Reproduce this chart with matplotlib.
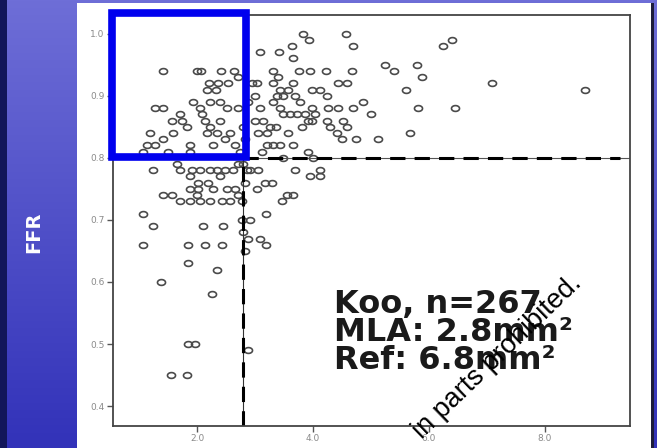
import numpy as np
import matplotlib
matplotlib.use("Agg")
import matplotlib.pyplot as plt
from matplotlib.patches import Rectangle
from matplotlib.path import Path
from matplotlib.markers import MarkerStyle

# MLA (mm2) vs FFR
mla = [3.83, 3.93, 4.57, 4.69, 6.24, 6.40, 3.09, 3.41, 3.64, 3.66,
       5.24, 5.40, 5.79, 5.88, 5.60, 7.09, 8.69, 1.41, 2.00, 2.07,
       2.41, 2.64, 2.71, 3.31, 3.76, 3.95, 4.22, 4.67, 3.40, 3.03,
       3.31, 3.66, 4.43, 4.59, 2.21, 2.36, 2.53, 2.17, 2.33, 3.98,
       4.12, 4.24, 3.43, 3.57, 3.69, 3.38, 3.48, 3.78, 3.31, 2.95,
       3.00, 2.88,
       1.28, 1.41, 1.93, 2.05, 2.22, 2.40, 2.52, 2.71, 1.71, 3.09,
       3.43, 3.98, 4.26, 4.43, 4.69, 4.86, 5.00, 5.81, 6.45, 3.48,
       3.60, 3.72, 3.86, 4.03, 4.52, 4.59, 4.50, 4.74, 5.12, 5.67,
       3.00, 3.14, 3.26, 3.05, 3.21, 3.36, 3.57, 3.81, 3.91, 3.98,
       4.24, 4.29, 4.41, 3.21, 3.31, 3.43, 3.66, 3.12, 3.91, 3.48,
       4.00, 1.57, 1.74, 1.83, 1.19, 1.59, 1.41, 1.28, 1.07, 1.50,
       1.88, 1.88, 2.14, 2.22, 2.40, 2.34, 2.17, 2.57, 2.48, 2.28,
       2.66, 2.09, 1.14, 2.74, 2.79, 2.83,
       1.24, 1.66, 1.71, 1.91, 2.05, 2.22, 2.34, 2.48, 2.62, 2.71,
       2.79, 2.86, 2.91, 3.05, 3.69, 3.95, 4.12, 4.12, 1.88, 2.02,
       2.40, 2.19, 3.17, 3.29, 3.03, 1.88, 2.02, 2.28, 2.52, 2.66,
       2.83, 1.41, 1.57, 1.71, 1.88, 2.05, 2.22, 2.43, 2.57, 2.71,
       2.00, 2.78, 3.47, 3.55, 3.66, 1.07, 2.78, 2.91, 3.19,
       1.24, 2.10, 2.45, 2.79, 2.88, 3.09, 3.19, 2.83, 1.07, 1.84,
       2.14, 2.43, 1.84, 2.34, 1.38, 2.26, 1.84, 1.97, 2.88, 1.55,
       1.83]
ffr = [1.00, 0.99, 1.00, 0.98, 0.98, 0.99, 0.97, 0.97, 0.98, 0.96,
       0.95, 0.94, 0.95, 0.93, 0.91, 0.92, 0.91, 0.94, 0.94, 0.94,
       0.94, 0.94, 0.93, 0.94, 0.94, 0.94, 0.94, 0.94, 0.93, 0.92,
       0.92, 0.92, 0.92, 0.92, 0.92, 0.92, 0.92, 0.91, 0.91, 0.91,
       0.91, 0.90, 0.91, 0.91, 0.90, 0.90, 0.90, 0.89, 0.89, 0.92,
       0.90, 0.89,
       0.88, 0.88, 0.89, 0.88, 0.89, 0.89, 0.88, 0.88, 0.87, 0.88,
       0.88, 0.88, 0.88, 0.88, 0.88, 0.89, 0.87, 0.88, 0.88, 0.87,
       0.87, 0.87, 0.87, 0.87, 0.86, 0.85, 0.83, 0.83, 0.83, 0.84,
       0.86, 0.86, 0.85, 0.84, 0.84, 0.85, 0.84, 0.85, 0.86, 0.86,
       0.86, 0.85, 0.84, 0.82, 0.82, 0.82, 0.82, 0.81, 0.81, 0.80,
       0.80, 0.86, 0.86, 0.85, 0.84, 0.84, 0.83, 0.82, 0.81, 0.81,
       0.82, 0.81, 0.86, 0.85, 0.86, 0.84, 0.84, 0.84, 0.83, 0.82,
       0.82, 0.87, 0.82, 0.81, 0.85, 0.83,
       0.78, 0.79, 0.78, 0.78, 0.78, 0.78, 0.78, 0.78, 0.78, 0.79,
       0.79, 0.78, 0.78, 0.78, 0.78, 0.77, 0.78, 0.77, 0.77, 0.76,
       0.77, 0.76, 0.76, 0.76, 0.75, 0.75, 0.75, 0.75, 0.75, 0.75,
       0.76, 0.74, 0.74, 0.73, 0.73, 0.73, 0.73, 0.73, 0.73, 0.74,
       0.74, 0.73, 0.73, 0.74, 0.74, 0.71, 0.70, 0.70, 0.71,
       0.69, 0.69, 0.69, 0.68, 0.67, 0.67, 0.66, 0.65, 0.66, 0.66,
       0.66, 0.66, 0.63, 0.62, 0.60, 0.58, 0.50, 0.50, 0.49, 0.45,
       0.45]

mla_cut = 2.8
ffr_cut = 0.80
x_ticks = [2, 4, 6, 8]
y_ticks = [0.4, 0.5, 0.6, 0.7, 0.8, 0.9, 1.0]
note = "Koo, n=267\nMLA: 2.8mm\u00b2\nRef: 6.8mm\u00b2"

W, H = 657, 448
fig = plt.figure(figsize=(W / 100, H / 100), dpi=100)

# slide background: blue gradient + white picture panel
bg = fig.add_axes([0, 0, 1, 1], zorder=-5)
bg.axis("off")
t = np.linspace(0, 1, H)[:, None, None]
top = np.array([110, 110, 215]) / 255
bot = np.array([50, 50, 185]) / 255
img = np.repeat(top * (1 - t) + bot * t, W, axis=1)
img[:, :7] = np.array([18, 22, 90]) / 255
bg.imshow(img, aspect="auto", extent=[0, W, H, 0])
bg.add_patch(Rectangle((77, 3), 574, 445, facecolor="white", edgecolor="none"))
bg.add_patch(Rectangle((651, 3), 3, 445, facecolor="#1c1c3a", edgecolor="none"))
bg.set_xlim(0, W)
bg.set_ylim(H, 0)

ax = fig.add_axes([113 / W, 22 / H, 517 / W, 411 / H])
ax.set_facecolor("white")
ax.set_xlim(0.55, 9.47)
ax.set_ylim(0.368, 1.03)

# flattened open circles like the stretched slide
th = np.linspace(0, 2 * np.pi, 40)
ell = Path(np.column_stack([np.cos(th), 0.72 * np.sin(th)]), closed=True)
ax.plot(mla, ffr, linestyle="none", marker=MarkerStyle(ell), markersize=5.8,
        markerfacecolor="none", markeredgecolor="#4a4a4a", markeredgewidth=1.2)

# reference lines
ax.axhline(ffr_cut, color="#555555", lw=0.8)
ax.axvline(mla_cut, color="#333333", lw=0.8)
ax.plot([mla_cut, mla_cut], [0.368, ffr_cut], color="black", lw=2.2, dashes=(5, 3))
ax.plot([mla_cut, 9.3], [ffr_cut, ffr_cut], color="black", lw=2.2, dashes=(5, 3))

ax.set_xticks(x_ticks)
ax.set_xticklabels(["%.1f" % v for v in x_ticks])
ax.set_yticks(y_ticks)
ax.set_yticklabels(["%.1f" % v for v in y_ticks])
ax.tick_params(length=4, width=1, color="#555555", labelcolor="#8a8a8a", labelsize=6.5, pad=2)
for s in ax.spines.values():
    s.set_color("#444444")
    s.set_linewidth(1.3)

# blue highlight box
ax.add_patch(Rectangle((0.53, ffr_cut + 0.002), mla_cut + 0.05 - 0.53, 1.033 - ffr_cut - 0.002,
                       fill=False, edgecolor="#0000ee", lw=5.5, clip_on=False, zorder=5))

fig.text(34 / W, 1 - 232 / H, "FFR", rotation=90, color="white", fontweight="bold",
         fontsize=14, ha="center", va="center", family="DejaVu Sans")
fig.text(334 / W, 1 - 289 / H, note, fontsize=23, fontweight="bold", color="#1a1a1a",
         ha="left", va="top", linespacing=0.88, family="DejaVu Sans", zorder=6)
fig.text(497 / W, 1 - 357 / H, "in parts prohibited.", rotation=44, fontsize=19.5,
         color="black", ha="center", va="center", family="Liberation Sans", zorder=7)

fig.savefig("out.png", dpi=100)
